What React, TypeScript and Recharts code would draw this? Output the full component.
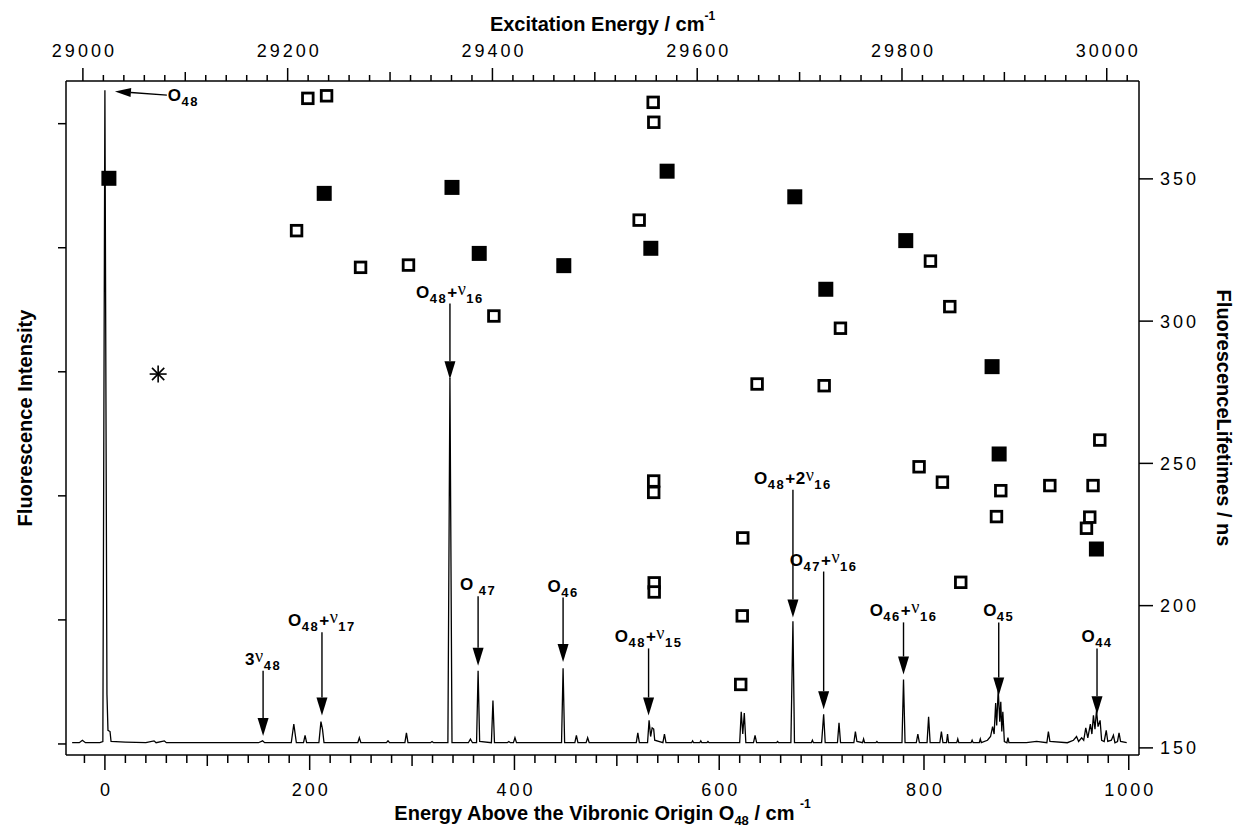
import React from 'react';
import { ComposedChart, Line, Scatter, XAxis, YAxis, ReferenceLine } from 'recharts';

// the O48 origin on the excitation-energy scale (top axis = bottom axis + ORIGIN)
const ORIGIN = 29021.5;

// fluorescence spectrum: [energy above O48 / cm-1, intensity (arb.)]
const spectrum: number[][] = [
  [-32, 1], [-25, 1], [-22, 3], [-19, 1], [-5, 1], [-2, 2], [0, 527], [2, 40], [3, 11], [5, 10], [6, 2],
  [20, 1.5], [40, 1], [48, 2.5], [50, 1], [58, 2.5], [60, 1], [100, 1], [150, 1], [154, 2.5], [156, 1],
  [182, 1], [184.5, 16], [187, 1], [194, 1], [195.5, 7], [197, 1], [209, 1], [211, 18], [212.5, 12], [214, 1],
  [247, 1], [248.5, 5], [250, 1], [275, 1], [276.5, 2.5], [278, 1], [293, 1], [294.5, 9], [296, 1],
  [318, 1], [319.5, 2], [321, 1], [335, 1], [337, 295], [339, 1], [355, 1], [357, 4], [359, 1],
  [363, 1], [364.5, 59], [366, 2], [377.5, 1], [379, 35], [380.5, 1], [393, 1], [394.5, 2], [396, 1],
  [399, 1], [400.5, 5], [402, 1], [446, 1], [447.5, 61], [449, 1], [459, 1], [460.5, 7], [462, 1],
  [470, 1], [471.5, 5], [473, 1], [519, 1], [520.5, 9], [522, 1], [530, 1], [531.5, 19], [533, 6],
  [534.5, 13], [536, 12], [537, 3], [545, 1], [546.5, 8], [548, 1], [573, 1], [574, 2.5], [575, 1],
  [581, 1], [582, 2.5], [583, 1], [588, 1], [589, 2], [590, 1], [620, 1], [621.5, 26], [623, 8],
  [624.5, 25], [626, 1], [633.5, 1], [635, 7], [636.5, 1], [656, 1], [657, 2], [658, 1], [670, 1],
  [672, 99], [673.5, 1], [690, 1], [691, 3], [692, 1], [700, 1], [702, 24], [703.5, 1], [715.5, 1],
  [717, 17], [718.5, 1], [731.5, 1], [733, 10], [734.5, 2], [740, 1], [741, 4], [742, 1], [753, 1],
  [754, 2], [755, 1], [778.5, 1], [780, 52], [781.5, 1], [792.5, 1], [794, 8], [795.5, 1], [803, 1],
  [804.5, 22], [806, 1], [815.5, 1], [817, 10], [818.5, 1], [822, 1], [823, 8], [824, 1], [832, 1],
  [833, 4], [834, 1], [846, 1], [847, 3], [848, 1], [854, 1], [855, 4], [856, 1], [862, 3], [865, 6],
  [867, 14], [868.5, 8], [870, 33], [871, 15], [872.5, 44], [874, 18], [875, 34], [876, 10], [877, 26],
  [878.5, 2], [881, 1], [882, 5], [883, 1], [900, 1], [910, 2], [920, 1], [921.5, 10], [923, 2],
  [940, 1], [946, 3], [949, 6], [951, 2], [954, 5], [956, 3], [958, 13], [960, 5], [962.5, 16],
  [964, 8], [965.5, 23], [967, 12], [968.5, 27], [970, 14], [972, 19], [973.5, 3], [976, 2], [978, 11],
  [979.5, 2], [983, 3], [985, 7], [986.5, 1], [989, 2], [990.5, 9], [992, 2], [998, 1],
];

// fluorescence lifetimes (ns), filled squares
const filledE = [3.9, 214.2, 339, 365.6, 448.2, 533.2, 549.1, 673.8, 704.1, 782.2, 866.5, 873.4, 968.4];
const filledLt = [350.2, 344.9, 347.0, 323.8, 319.5, 325.6, 352.7, 343.7, 311.2, 328.3, 284.0, 253.3, 219.9];

// fluorescence lifetimes (ns), open squares
const openE = [187.2, 198.2, 216.5, 249.7, 296.5, 379.9, 521.8, 535.5, 536.1, 536, 536, 536.5, 536.5, 621,
  622.5, 623, 637, 702.5, 718.4, 795.2, 806.3, 818, 825.2, 835.9, 870.8, 875, 922.9, 958.7, 961.9, 965.1, 971.7];
const openLt = [331.8, 378.3, 379.2, 318.9, 319.7, 301.8, 335.5, 376.9, 369.9, 243.8, 239.8, 208, 204.8, 172.3,
  196.4, 223.8, 277.9, 277.3, 297.5, 248.8, 321.1, 243.4, 305.1, 208.2, 231.3, 240.4, 242.2, 227.2, 231.1, 242.2, 258.2];

// the asterisk, read on the excitation-energy scale
const starX = [29073.5];
const starLt = [281.4];

// tick labels
const bottomLabels = [0, 200, 400, 600, 800, 1000];
const topLabels = [29000, 29200, 29400, 29600, 29800, 30000];
const rightLabels = [150, 200, 250, 300, 350];
const leftTicks = [0, 100, 200, 300, 400, 500];
const bottomTicks = Array.from({ length: 52 }, (_, k) => -20 + k * 20);
const topTicks = Array.from({ length: 52 }, (_, k) => 29000 + k * 20);

// peak annotations: arrow x (cm-1), arrow start / tip (intensity), label pieces
const annoX = [154.5, 212, 337, 364.5, 447.5, 531, 672, 702, 780, 873, 969];
const annoTail = [59, 90, 355, 119, 118, 77, 205, 139, 98, 98, 77];
const annoTip = [6.5, 23, 294, 63, 66, 23, 102, 28, 56, 39, 24];
const annoText: string[][][] = [
  [['3', 'n'], ['ν', 'v'], ['48', 's']],
  [['O', 'n'], ['48', 's'], ['+', 'n'], ['ν', 'v'], ['17', 's']],
  [['O', 'n'], ['48', 's'], ['+', 'n'], ['ν', 'v'], ['16', 's']],
  [['O', 'n'], [' 47', 's']],
  [['O', 'n'], ['46', 's']],
  [['O', 'n'], ['48', 's'], ['+', 'n'], ['ν', 'v'], ['15', 's']],
  [['O', 'n'], ['48', 's'], ['+2', 'n'], ['ν', 'v'], ['16', 's']],
  [['O', 'n'], ['47', 's'], ['+', 'n'], ['ν', 'v'], ['16', 's']],
  [['O', 'n'], ['46', 's'], ['+', 'n'], ['ν', 'v'], ['16', 's']],
  [['O', 'n'], ['45', 's']],
  [['O', 'n'], ['44', 's']],
];
// the origin arrow points sideways at the O48 band
const originTail = { x: 60.5, y: 523 };
const originTip = { x: 9.8, y: 526 };
const originText = [['O', 'n'], ['48', 's']];

const specData = spectrum.map(([e, i]) => ({ e, i }));
const filledData = filledE.map((e, k) => ({ e, lt: filledLt[k] }));
const openData = openE.map((e, k) => ({ e, lt: openLt[k] }));
const starData = starX.map((x, k) => ({ x, lt: starLt[k] }));

const FONT = '"Liberation Sans", Arial, Helvetica, sans-serif';
const SERIF = '"Liberation Serif", "DejaVu Serif", serif';

const KIND: Record<string, { size: number; shift: number; weight: number; family: string; ls: number }> = {
  n: { size: 17, shift: 0, weight: 700, family: FONT, ls: 0.5 },
  s: { size: 13, shift: 5, weight: 700, family: FONT, ls: 1.5 },
  v: { size: 18, shift: -3, weight: 400, family: SERIF, ls: 0.5 },
};

function Annot({ x, y, parts, anchor }: { x: number; y: number; parts: string[][]; anchor: 'start' | 'middle' }) {
  let prev = 0;
  return (
    <text x={x} y={y} textAnchor={anchor} fill="#000" style={{ whiteSpace: 'pre' }}>
      {parts.map(([t, k], j) => {
        const st = KIND[k];
        const dy = st.shift - prev;
        prev = st.shift;
        return (
          <tspan key={j} dy={dy} fontSize={st.size} fontWeight={st.weight} fontFamily={st.family} letterSpacing={st.ls}>
            {t}
          </tspan>
        );
      })}
    </text>
  );
}

const arrowShape = (parts: string[][], side: boolean) => (p: any) => {
  const { x1, y1, x2, y2 } = p;
  const dx = x2 - x1;
  const dy = y2 - y1;
  const len = Math.hypot(dx, dy) || 1;
  const ux = dx / len;
  const uy = dy / len;
  const hl = side ? 16 : 18;
  const hw = side ? 4.5 : 5.5;
  const bx = x2 - ux * hl;
  const by = y2 - uy * hl;
  const head = `${x2},${y2} ${bx - uy * hw},${by + ux * hw} ${bx + uy * hw},${by - ux * hw}`;
  return (
    <g>
      <line x1={x1} y1={y1} x2={bx} y2={by} stroke="#000" strokeWidth={1.4} />
      <polygon points={head} fill="#000" />
      {side ? (
        <Annot x={x1 + 1} y={y1 + 6} parts={parts} anchor="start" />
      ) : (
        <Annot x={x1} y={y1 - 6} parts={parts} anchor="middle" />
      )}
    </g>
  );
};

const numStyle = { fontFamily: FONT, fontSize: 18, letterSpacing: 3, fill: '#000' };

const BottomTick = (p: any) => {
  const v = p.payload.value;
  const len = v % 200 === 0 ? 15 : v % 100 === 0 ? 11 : 8;
  return (
    <g>
      <line x1={p.x} y1={p.y} x2={p.x} y2={p.y + len} stroke="#000" strokeWidth={1.5} />
      {bottomLabels.includes(v) && (
        <text x={p.x + 1.5} y={p.y + 41} textAnchor="middle" style={numStyle}>{v}</text>
      )}
    </g>
  );
};

const TopTick = (p: any) => {
  const v = p.payload.value;
  const len = v % 200 === 0 ? 13 : v % 100 === 0 ? 9 : 6;
  return (
    <g>
      <line x1={p.x} y1={p.y} x2={p.x} y2={p.y - len} stroke="#000" strokeWidth={1.5} />
      {topLabels.includes(v) && (
        <text x={p.x + 1.5} y={p.y - 24} textAnchor="middle" style={numStyle}>{v}</text>
      )}
    </g>
  );
};

const LeftTick = (p: any) => (
  <line x1={p.x - 8} y1={p.y} x2={p.x} y2={p.y} stroke="#000" strokeWidth={1.5} />
);

const RightTick = (p: any) => (
  <g>
    <line x1={p.x} y1={p.y} x2={p.x + 14} y2={p.y} stroke="#000" strokeWidth={1.5} />
    <text x={p.x + 21} y={p.y + 6.5} textAnchor="start" style={numStyle}>{p.payload.value}</text>
  </g>
);

const titleStyle = { fontFamily: FONT, fontWeight: 700, fontSize: 20, fill: '#000' };

const BottomTitle = (p: any) => {
  const vb = p.viewBox;
  return (
    <text x={vb.x + vb.width / 2} y={vb.y + 65} textAnchor="middle" style={{ ...titleStyle, whiteSpace: 'pre' }}>
      <tspan>Energy Above the Vibronic Origin O</tspan>
      <tspan fontSize={13} dy={5}>48</tspan>
      <tspan dy={-5}> / cm </tspan>
      <tspan fontSize={12} dy={-12}>-1</tspan>
    </text>
  );
};

const TopTitle = (p: any) => {
  const vb = p.viewBox;
  return (
    <text x={vb.x + vb.width / 2} y={vb.y + 31} textAnchor="middle" style={{ ...titleStyle, whiteSpace: 'pre' }}>
      <tspan>Excitation Energy / cm</tspan>
      <tspan fontSize={12} dy={-11}>-1</tspan>
    </text>
  );
};

const LeftTitle = (p: any) => {
  const vb = p.viewBox;
  const cy = vb.y + vb.height / 2;
  return (
    <text x={32} y={cy} transform={`rotate(-90 32 ${cy})`} textAnchor="middle" style={titleStyle}>
      Fluorescence Intensity
    </text>
  );
};

const RightTitle = (p: any) => {
  const vb = p.viewBox;
  const cy = vb.y + vb.height / 2;
  const x = vb.x + vb.width - 21;
  return (
    <text x={x} y={cy} transform={`rotate(90 ${x} ${cy})`} textAnchor="middle" style={titleStyle}>
      FluorescenceLifetimes / ns
    </text>
  );
};

const FilledSquare = (p: any) => <rect x={p.cx - 7.5} y={p.cy - 7.5} width={15} height={15} fill="#000" />;

const OpenSquare = (p: any) => (
  <rect x={p.cx - 5.3} y={p.cy - 5.3} width={10.6} height={10.6} fill="#fff" stroke="#000" strokeWidth={2.8} />
);

const Star = (p: any) => {
  const r = 8.5;
  const d = r * 0.72;
  return (
    <g stroke="#000" strokeWidth={1.6}>
      <line x1={p.cx} y1={p.cy - r} x2={p.cx} y2={p.cy + r} />
      <line x1={p.cx - r} y1={p.cy} x2={p.cx + r} y2={p.cy} />
      <line x1={p.cx - d} y1={p.cy - d} x2={p.cx + d} y2={p.cy + d} />
      <line x1={p.cx - d} y1={p.cy + d} x2={p.cx + d} y2={p.cy - d} />
    </g>
  );
};

export default function App() {
  return (
    <div style={{ position: 'absolute', left: 0, top: 0, width: 1238, height: 828, background: '#fff', fontFamily: FONT }}>
      <ComposedChart width={1238} height={828} margin={{ top: 0, right: 0, bottom: 0, left: 0 }}>
        <XAxis
          xAxisId="b"
          dataKey="e"
          type="number"
          domain={[-38, 1010]}
          allowDataOverflow
          ticks={bottomTicks}
          interval={0}
          tick={<BottomTick />}
          tickLine={false}
          tickSize={0}
          tickMargin={0}
          height={73}
          axisLine={{ stroke: '#000', strokeWidth: 1.5 }}
          label={{ content: <BottomTitle /> }}
        />
        <XAxis
          xAxisId="t"
          dataKey="x"
          orientation="top"
          type="number"
          domain={[-38 + ORIGIN, 1010 + ORIGIN]}
          allowDataOverflow
          ticks={topTicks}
          interval={0}
          tick={<TopTick />}
          tickLine={false}
          tickSize={0}
          tickMargin={0}
          height={81}
          axisLine={{ stroke: '#000', strokeWidth: 1.5 }}
          label={{ content: <TopTitle /> }}
        />
        <YAxis
          yAxisId="int"
          type="number"
          domain={[-8.9, 534.4]}
          allowDataOverflow
          ticks={leftTicks}
          interval={0}
          tick={<LeftTick />}
          tickLine={false}
          tickSize={0}
          tickMargin={0}
          width={66}
          axisLine={{ stroke: '#000', strokeWidth: 1.5 }}
          label={{ content: <LeftTitle /> }}
        />
        <YAxis
          yAxisId="lt"
          dataKey="lt"
          orientation="right"
          type="number"
          domain={[147.5, 384.4]}
          allowDataOverflow
          ticks={rightLabels}
          interval={0}
          tick={<RightTick />}
          tickLine={false}
          tickSize={0}
          tickMargin={0}
          width={99}
          axisLine={{ stroke: '#000', strokeWidth: 1.5 }}
          label={{ content: <RightTitle /> }}
        />
        <Line
          xAxisId="b"
          yAxisId="int"
          data={specData}
          dataKey="i"
          type="linear"
          stroke="#000"
          strokeWidth={1.3}
          dot={false}
          activeDot={false}
          isAnimationActive={false}
        />
        {annoX.map((x, k) => (
          <ReferenceLine
            key={k}
            xAxisId="b"
            yAxisId="int"
            segment={[{ x, y: annoTail[k] }, { x, y: annoTip[k] }]}
            ifOverflow="visible"
            shape={arrowShape(annoText[k], false)}
          />
        ))}
        <ReferenceLine
          xAxisId="b"
          yAxisId="int"
          segment={[originTail, originTip]}
          ifOverflow="visible"
          shape={arrowShape(originText, true)}
        />
        <Scatter xAxisId="b" yAxisId="lt" data={openData} shape={<OpenSquare />} isAnimationActive={false} />
        <Scatter xAxisId="b" yAxisId="lt" data={filledData} shape={<FilledSquare />} isAnimationActive={false} />
        <Scatter xAxisId="t" yAxisId="lt" data={starData} shape={<Star />} isAnimationActive={false} />
      </ComposedChart>
    </div>
  );
}
